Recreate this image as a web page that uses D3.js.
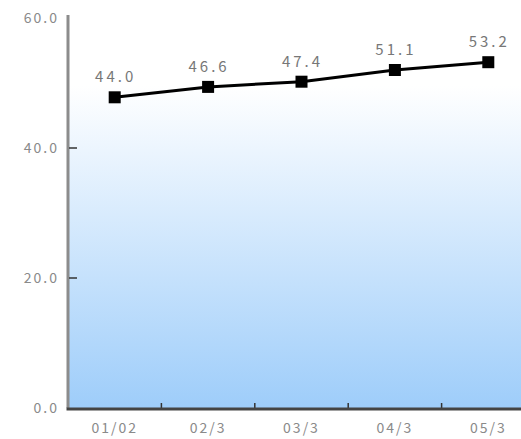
<!DOCTYPE html>
<html>
<head>
<meta charset="utf-8">
<script src="https://cdn.jsdelivr.net/npm/d3@7"></script>
<style>
  body { margin: 0; background: #fff; }
  svg { display: block; }
  .tick-label { font-family: "Noto Sans CJK JP", "DejaVu Sans", sans-serif; fill: #8a8a8a; }
</style>
</head>
<body>
<script>
// categories and values (values read from the plotted positions)
var categories = ["01/02", "02/3", "03/3", "04/3", "05/3"];
var values = [47.8, 49.4, 50.2, 52.0, 53.2];
var valueLabels = ["44.0", "46.6", "47.4", "51.1", "53.2"];
var yTicks = [0, 20, 40, 60];

var margin = {top: 18, right: 0, bottom: 31, left: 68},
    width = 535 - margin.left,
    height = 439 - margin.top - margin.bottom;

var x = d3.scaleBand().domain(categories).range([0, width]);
var y = d3.scaleLinear().domain([0, 60]).range([height, 0]);

var svg = d3.select("body")
    .append("svg")
        .attr("width", 521)
        .attr("height", 439)
    .append("g")
        .attr("transform", "translate(" + margin.left + "," + margin.top + ")");

// background gradient
var grad = svg.append("defs").append("linearGradient")
    .attr("id", "bg").attr("x1", 0).attr("y1", 0).attr("x2", 0).attr("y2", 1);
grad.append("stop").attr("offset", "0%").attr("stop-color", "#ffffff");
grad.append("stop").attr("offset", "18%").attr("stop-color", "#ffffff");
grad.append("stop").attr("offset", "100%").attr("stop-color", "#9ecdfa");

svg.append("rect")
    .attr("x", 0).attr("y", y(60) - 3)
    .attr("width", width).attr("height", height - y(60) + 3)
    .style("fill", "url(#bg)");

// y axis
var yAxis = d3.axisLeft(y).tickValues(yTicks).tickSize(0).tickPadding(9)
    .tickFormat(d3.format(".1f"));
var gy = svg.append("g").call(yAxis);
gy.select(".domain").remove();
gy.selectAll("text").attr("class", "tick-label")
    .style("font-size", "14px").style("letter-spacing", "2px");

svg.append("line")
    .attr("x1", 0).attr("x2", 0).attr("y1", y(60) - 3).attr("y2", height)
    .style("stroke", "#8c8c8c").style("stroke-width", 3);

svg.selectAll(".ytick")
    .data([20, 40])
    .enter().append("line")
        .attr("x1", 1).attr("x2", 9)
        .attr("y1", function(d) { return y(d); })
        .attr("y2", function(d) { return y(d); })
        .style("stroke", "#333").style("stroke-width", 1.5);

// x axis
var xAxis = d3.axisBottom(x).tickSize(0).tickPadding(15);
var gx = svg.append("g").attr("transform", "translate(0," + height + ")").call(xAxis);
gx.select(".domain").remove();
gx.selectAll("text").attr("class", "tick-label")
    .style("font-size", "14px").style("letter-spacing", "2px");

svg.selectAll(".xtick")
    .data(categories.slice(1))
    .enter().append("line")
        .attr("x1", function(d) { return x(d); })
        .attr("x2", function(d) { return x(d); })
        .attr("y1", height - 5).attr("y2", height)
        .style("stroke", "#333").style("stroke-width", 1.5);

svg.append("line")
    .attr("x1", -1.5).attr("x2", width).attr("y1", height + 1).attr("y2", height + 1)
    .style("stroke", "#444").style("stroke-width", 3);

// line
var valueline = d3.line()
    .x(function(d, i) { return x(categories[i]) + x.bandwidth() / 2; })
    .y(function(d) { return y(d); });

svg.append("path")
    .attr("d", valueline(values))
    .style("fill", "none").style("stroke", "#000").style("stroke-width", 3);

svg.selectAll(".marker")
    .data(values)
    .enter().append("rect")
        .attr("x", function(d, i) { return x(categories[i]) + x.bandwidth() / 2 - 6; })
        .attr("y", function(d) { return y(d) - 6; })
        .attr("width", 12).attr("height", 12)
        .style("fill", "#000");

svg.selectAll(".vlabel")
    .data(values)
    .enter().append("text")
        .attr("class", "tick-label")
        .attr("x", function(d, i) { return x(categories[i]) + x.bandwidth() / 2 + 1; })
        .attr("y", function(d) { return y(d) - 15; })
        .style("text-anchor", "middle")
        .style("font-size", "15px")
        .style("fill", "#777")
        .style("letter-spacing", "3px")
        .text(function(d, i) { return valueLabels[i]; });
</script>
</body>
</html>
